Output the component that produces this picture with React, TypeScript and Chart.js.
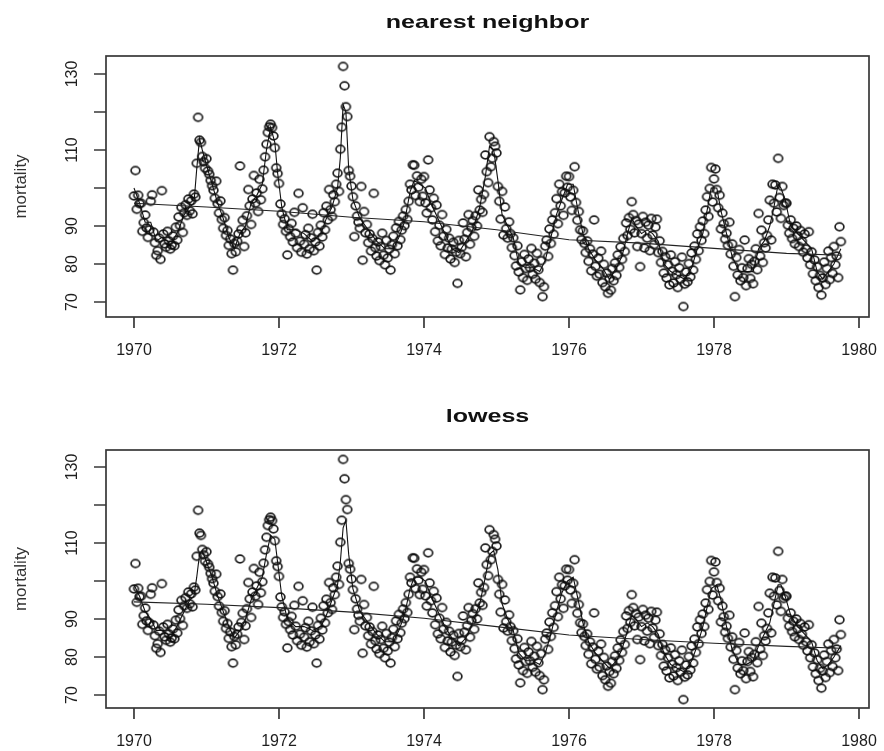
import React, { useEffect, useRef } from "react";
import { Chart, registerables } from "chart.js";

Chart.register(...registerables);

// ---------- data (weekly cardiovascular mortality) ----------
const START_YEAR = 1970;
const WEEKS_PER_YEAR = 52;

const mort1970 = [
  97.9, 104.6, 94.4, 98.1, 95.9, 96.0, 88.6, 90.9, 92.9, 89.5, 87.0, 89.0, 96.5,
  98.2, 88.4, 85.6, 82.3, 83.5, 86.8, 81.2, 99.3, 87.9, 85.3, 84.4, 88.6, 86.1,
  83.9, 85.0, 87.4, 84.8, 89.7, 86.3, 92.4, 90.1, 94.9, 88.3, 93.5, 95.6, 92.8,
  97.1, 94.0, 96.6, 93.2, 98.4, 97.6, 106.5, 118.6, 112.6, 112.0, 108.3, 106.9, 105.2,
];
const mort1971 = [
  107.7, 104.5, 103.6, 102.0, 100.6, 99.4, 97.3, 101.8, 95.9, 93.4, 96.6, 91.7, 89.4,
  92.2, 87.5, 88.8, 84.9, 86.6, 82.7, 78.4, 85.4, 83.2, 86.0, 87.9, 105.8, 89.1,
  91.5, 84.6, 88.2, 92.7, 99.6, 95.3, 90.4, 97.1, 103.3, 96.0, 98.7, 93.8, 102.3,
  96.9, 99.8, 104.7, 108.2, 111.5, 114.6, 116.1, 116.8, 115.9, 113.7, 110.6, 105.3, 103.8,
];
const mort1972 = [
  101.2, 95.8, 93.2, 90.4, 91.9, 88.6, 82.4, 89.3, 87.2, 90.7, 85.8, 93.6, 88.1,
  84.3, 98.6, 86.0, 83.1, 94.8, 85.2, 87.7, 82.6, 89.4, 84.0, 86.9, 93.1, 83.5,
  85.8, 78.4, 88.3, 84.7, 90.2, 87.1, 93.5, 89.0, 95.2, 91.6, 99.6, 94.3, 92.5,
  98.2, 96.4, 101.0, 103.9, 99.1, 110.2, 116.0, 132.0, 126.9, 121.4, 118.8, 104.6, 103.1,
];
const mort1973 = [
  100.5, 97.7, 87.2, 95.3, 92.6, 91.0, 89.4, 100.4, 81.0, 93.8, 88.2, 90.4, 85.6,
  87.9, 83.4, 86.7, 98.6, 84.3, 82.1, 85.8, 80.9, 84.6, 88.1, 82.3, 79.8, 86.2,
  81.6, 83.9, 78.4, 85.1, 87.3, 82.7, 89.5, 84.8, 91.2, 86.4, 88.9, 92.6, 90.1,
  94.3, 91.7, 96.5, 101.0, 99.5, 106.1, 106.0, 98.0, 103.2, 100.2, 96.4, 102.3, 97.8,
];
const mort1974 = [
  103.0, 96.1, 93.4, 107.4, 99.5, 94.8, 91.6, 97.3, 88.5, 95.5, 86.1, 90.2, 84.8,
  93.0, 87.3, 82.5, 89.1, 84.2, 86.8, 81.3, 83.9, 85.7, 80.4, 83.1, 74.9, 86.2,
  82.7, 84.4, 90.8, 86.5, 81.9, 88.3, 93.0, 85.2, 89.6, 91.4, 87.3, 92.7, 90.0,
  99.5, 94.2, 97.0, 93.6, 98.3, 108.7, 104.3, 101.4, 113.5, 105.6, 107.8, 112.2, 111.0,
];
const mort1975 = [
  109.2, 100.4, 96.5, 91.8, 99.1, 87.6, 95.0, 89.3, 86.8, 91.1, 88.0, 84.3, 86.9,
  82.2, 79.5, 84.8, 77.9, 73.2, 80.6, 76.4, 82.5, 78.8, 75.7, 81.3, 79.0, 84.1,
  77.3, 80.2, 76.0, 82.8, 78.5, 75.1, 80.9, 71.4, 74.0, 84.7, 86.3, 82.0, 89.2,
  85.4, 91.6, 87.8, 93.5, 97.2, 90.6, 101.0, 95.3, 99.0, 92.8, 98.7, 103.1, 100.2,
];
const mort1976 = [
  103.0, 97.6, 94.1, 99.4, 105.6, 96.2, 91.5, 93.8, 89.0, 86.4, 88.7, 85.4, 83.0,
  86.1, 80.7, 84.0, 78.2, 82.6, 91.6, 79.4, 76.8, 81.5, 77.3, 83.4, 75.1, 79.9,
  74.0, 77.6, 72.3, 76.2, 73.1, 78.8, 75.6, 80.3, 77.0, 82.4, 79.1, 84.5, 81.2,
  86.7, 83.3, 90.8, 87.5, 92.2, 89.1, 96.4, 93.0, 88.2, 91.4, 84.6, 90.5, 79.3,
];
const mort1977 = [
  88.0, 92.5, 84.2, 91.0, 86.8, 90.2, 83.5, 92.0, 87.6, 85.1, 89.7, 91.8, 83.0,
  86.1, 80.4, 83.3, 77.6, 81.9, 76.3, 79.8, 74.5, 82.4, 78.1, 75.0, 80.6, 77.2,
  73.8, 79.0, 76.0, 81.8, 68.8, 74.7, 77.9, 75.3, 80.1, 76.6, 82.9, 78.4, 84.7,
  81.2, 87.9, 83.5, 89.8, 86.2, 91.3, 88.0, 94.2, 97.7, 92.5, 99.9, 105.4, 96.3,
];
const mort1978 = [
  102.4, 105.0, 99.6, 94.8, 98.1, 89.2, 93.4, 90.6, 86.5, 88.1, 84.9, 91.0, 82.6,
  85.3, 79.4, 71.4, 81.7, 77.1, 83.8, 75.6, 79.0, 76.4, 86.3, 74.3, 78.8, 81.4,
  76.2, 79.9, 74.8, 80.7, 84.0, 78.5, 93.3, 82.1, 88.9, 80.4, 85.6, 84.2, 87.5,
  91.6, 96.8, 86.3, 101.0, 96.0, 100.8, 93.7, 107.8, 97.5, 92.0, 100.4, 95.4, 96.0,
];
const mort1979 = [
  96.0, 90.2, 88.1, 91.6, 86.7, 89.4, 85.3, 90.0, 87.4, 84.6, 88.8, 86.0, 83.1,
  87.9, 84.0, 81.6, 88.5, 79.8, 83.2, 77.4, 81.1, 75.6, 79.3, 73.8, 77.0, 71.8,
  76.3, 80.5, 74.6, 78.8, 83.4, 75.9, 81.7, 77.5, 84.6, 79.8, 82.1, 76.4, 89.8, 85.9,
];

const mortality = [
  ...mort1970, ...mort1971, ...mort1972, ...mort1973, ...mort1974,
  ...mort1975, ...mort1976, ...mort1977, ...mort1978, ...mort1979,
];

// short-span smoother (knots, in weeks since start of 1970)
const smoothWeeks = [
  0, 4, 8, 12, 16, 20, 24, 28, 32, 36,
  40, 43, 45, 47, 49, 52, 56, 60, 64, 68,
  72, 76, 80, 84, 88, 92, 95, 98, 101, 103,
  106, 110, 116, 122, 128, 134, 138, 142, 146, 148,
  150, 152, 154, 157, 162, 168, 174, 180, 186, 190,
  194, 198, 201, 205, 209, 213, 218, 223, 228, 233,
  238, 243, 248, 252, 255, 258, 261, 264, 268, 272,
  276, 281, 286, 291, 295, 299, 303, 307, 311, 315,
  318, 322, 326, 331, 336, 341, 346, 350, 354, 357,
  360, 364, 368, 372, 376, 380, 385, 390, 395, 400,
  404, 408, 411, 414, 418, 421, 425, 429, 434, 439,
  444, 448, 452, 456, 459, 462, 464, 467, 471, 476,
  481, 486, 490, 494, 498, 502, 507,
];
const nnSmooth = [
  100, 96, 91, 91, 86, 87, 86, 86, 89, 93,
  95, 96, 105, 113, 110, 106, 101, 96, 92, 87,
  84, 88, 90, 96, 98, 101, 110, 116, 112, 104,
  95, 89, 89, 88, 86, 88, 92, 95, 100, 108,
  122, 120, 105, 97, 92, 89, 86, 84, 84, 87,
  91, 99, 102, 101, 100, 96, 92, 88, 84, 83,
  86, 89, 95, 103, 111, 110, 102, 93, 90, 87,
  80, 79, 79, 78, 81, 87, 93, 97, 101, 101,
  95, 88, 84, 81, 79, 76, 79, 82, 88, 92,
  90, 88, 89, 88, 86, 80, 78, 77, 76, 79,
  84, 88, 94, 100, 100, 94, 88, 82, 78, 78,
  78, 84, 86, 90, 95, 101, 100, 97, 90, 88,
  86, 84, 78, 76, 78, 80, 84,
];
const lowessSmooth = [
  99, 96, 92, 90, 87, 87, 86, 86, 89, 92,
  95, 96, 101, 107, 108, 105, 101, 96, 92, 88,
  85, 87, 90, 95, 98, 101, 107, 112, 111, 105,
  96, 90, 88, 88, 87, 88, 91, 95, 99, 105,
  114, 116, 107, 98, 92, 89, 86, 84, 84, 87,
  91, 98, 101, 101, 100, 96, 92, 88, 85, 83,
  85, 89, 94, 101, 107, 108, 103, 94, 90, 87,
  81, 79, 79, 78, 81, 86, 92, 97, 100, 101,
  96, 89, 84, 81, 79, 77, 79, 82, 87, 91,
  90, 88, 89, 88, 86, 81, 78, 77, 76, 79,
  83, 88, 93, 98, 99, 95, 88, 82, 78, 78,
  79, 83, 86, 89, 94, 99, 99, 96, 91, 88,
  86, 84, 79, 77, 78, 80, 83,
];

// long-span trend lines
const trendYears = [1970, 1971, 1972, 1973, 1974, 1975, 1976, 1977, 1978, 1979, 1979.75];
const nnTrend = [96.0, 95.0, 93.9, 92.3, 91.1, 89.0, 86.4, 85.5, 84.1, 82.8, 82.3];
const lowessTrend = [94.5, 93.9, 93.0, 91.8, 90.2, 88.0, 85.8, 84.6, 83.6, 82.8, 82.3];

// axes
const xTickYears = [1970, 1972, 1974, 1976, 1978, 1980];
const yTickValues = [70, 80, 90, 100, 110, 120, 130];
const yTickLabels = ["70", "80", "90", "", "110", "", "130"];
const yAxisTitle = "mortality";

// ---------- helpers ----------
const weekToYear = (w: number) => START_YEAR + w / WEEKS_PER_YEAR;

function makeRing(): HTMLCanvasElement {
  const c = document.createElement("canvas");
  c.width = 13;
  c.height = 12;
  const g = c.getContext("2d")!;
  g.strokeStyle = "rgba(12,12,12,0.92)";
  g.lineWidth = 1.7;
  g.beginPath();
  g.ellipse(6.5, 6, 4.4, 3.8, 0, 0, Math.PI * 2);
  g.stroke();
  return c;
}

const FONT = "'Liberation Sans', Arial, Helvetica, sans-serif";

const rAxesPlugin = {
  id: "rAxes",
  afterDraw(chart: any, _args: any, opts: any) {
    const { ctx, chartArea: a, scales } = chart;
    const xs = scales.x;
    const ys = scales.y;
    ctx.save();
    // box
    ctx.strokeStyle = "#383838";
    ctx.lineWidth = 1.7;
    ctx.strokeRect(a.left, a.top, a.right - a.left, a.bottom - a.top);
    // ticks
    ctx.beginPath();
    for (const yr of xTickYears) {
      const px = xs.getPixelForValue(yr);
      ctx.moveTo(px, a.bottom);
      ctx.lineTo(px, a.bottom + 11);
    }
    for (const v of yTickValues) {
      const py = ys.getPixelForValue(v);
      ctx.moveTo(a.left, py);
      ctx.lineTo(a.left - 12, py);
    }
    ctx.stroke();
    // x labels
    ctx.fillStyle = "#1e1e1e";
    ctx.font = `16px ${FONT}`;
    ctx.textAlign = "center";
    ctx.textBaseline = "alphabetic";
    for (const yr of xTickYears) {
      ctx.fillText(String(yr), xs.getPixelForValue(yr), a.bottom + 38);
    }
    // y labels (rotated)
    yTickValues.forEach((v, i) => {
      const lab = yTickLabels[i];
      if (!lab) return;
      ctx.save();
      ctx.translate(77, ys.getPixelForValue(v));
      ctx.rotate(-Math.PI / 2);
      ctx.fillText(lab, 0, 0);
      ctx.restore();
    });
    // y axis title
    ctx.save();
    ctx.fillStyle = "#333";
    ctx.font = `17px ${FONT}`;
    ctx.translate(26, (a.top + a.bottom) / 2);
    ctx.rotate(-Math.PI / 2);
    ctx.fillText(yAxisTitle, 0, 0);
    ctx.restore();
    // main title
    ctx.save();
    ctx.fillStyle = "#111";
    ctx.font = `bold 19px ${FONT}`;
    ctx.translate((a.left + a.right) / 2, 28);
    ctx.scale(1.32, 1);
    ctx.fillText(opts.title, 0, 0);
    ctx.restore();
    ctx.restore();
  },
};

type PanelProps = {
  title: string;
  smooth: number[];
  trend: number[];
  yMin: number;
  yMax: number;
  height: number;
  top: number;
  padBottom: number;
};

function Panel({ title, smooth, trend, yMin, yMax, height, top, padBottom }: PanelProps) {
  const ref = useRef<HTMLCanvasElement | null>(null);
  useEffect(() => {
    if (!ref.current) return;
    const ring = makeRing();
    const pts = mortality.map((v, i) => ({ x: weekToYear(i), y: v }));
    const smoothPts = smoothWeeks.map((w, i) => ({ x: weekToYear(w), y: smooth[i] }));
    const trendPts = trendYears.map((t, i) => ({ x: t, y: trend[i] }));
    const chart = new Chart(ref.current, {
      type: "scatter",
      data: {
        datasets: [
          {
            data: trendPts,
            showLine: true,
            pointRadius: 0,
            borderColor: "#222",
            borderWidth: 1.1,
            tension: 0,
          } as any,
          {
            data: smoothPts,
            showLine: true,
            pointRadius: 0,
            borderColor: "#111",
            borderWidth: 1.1,
            tension: 0,
          } as any,
          {
            data: pts,
            pointStyle: ring,
            pointRadius: 4,
            backgroundColor: "rgba(0,0,0,0)",
            borderColor: "#111",
          } as any,
        ],
      },
      options: {
        animation: false,
        responsive: false,
        devicePixelRatio: 1,
        events: [],
        layout: { padding: { left: 106, right: 15, top: 56, bottom: padBottom } },
        scales: {
          x: { type: "linear", min: 1969.614, max: 1980.138, display: false },
          y: { type: "linear", min: yMin, max: yMax, display: false },
        },
        plugins: {
          legend: { display: false },
          tooltip: { enabled: false },
          rAxes: { title },
        } as any,
      },
      plugins: [rAxesPlugin as any],
    });
    return () => chart.destroy();
  }, [title, smooth, trend, yMin, yMax, padBottom]);
  return (
    <canvas
      ref={ref}
      width={884}
      height={height}
      style={{ position: "absolute", left: 0, top, width: 884, height }}
    />
  );
}

export default function App() {
  return (
    <div
      style={{
        position: "absolute",
        left: 0,
        top: 0,
        width: 884,
        height: 751,
        background: "#fff",
        overflow: "hidden",
      }}
    >
      <Panel
        title="nearest neighbor"
        smooth={nnSmooth}
        trend={nnTrend}
        yMin={66.05}
        yMax={134.74}
        height={394}
        top={0}
        padBottom={77}
      />
      <Panel
        title="lowess"
        smooth={lowessSmooth}
        trend={lowessTrend}
        yMin={66.58}
        yMax={134.47}
        height={357}
        top={394}
        padBottom={43}
      />
    </div>
  );
}
